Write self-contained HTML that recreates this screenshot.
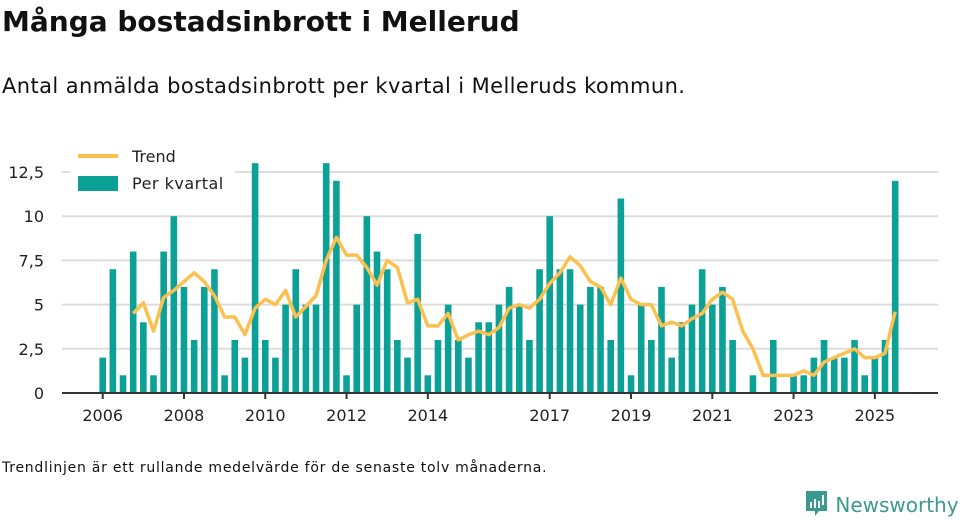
<!DOCTYPE html>
<html><head><meta charset="utf-8"><style>
body{margin:0;width:960px;height:520px;background:#fff;font-family:"DejaVu Sans","Liberation Sans",sans-serif;color:#111;overflow:hidden;position:relative}
.t{position:absolute;white-space:nowrap}
</style></head><body>
<div class="t" style="left:2px;top:5px;font-size:28px;font-weight:bold">Många bostadsinbrott i Mellerud</div>
<div class="t" style="left:2px;top:74px;font-size:21px;letter-spacing:0.4px">Antal anmälda bostadsinbrott per kvartal i Melleruds kommun.</div>
<svg id="c" width="960" height="520" style="position:absolute;left:0;top:0"></svg>
<div class="t" style="left:2px;top:460px;font-size:14px;letter-spacing:0.75px">Trendlinjen är ett rullande medelvärde för de senaste tolv månaderna.</div>
<div class="t" style="left:805px;top:490px;font-size:20px;color:#3a9a8f">
<svg width="24" height="28" style="vertical-align:-6px"><path d="M1 1h21v20h-8l-4 5v-5H1z" fill="#3a9a8f"/><rect x="5" y="12" width="2" height="6" fill="#fff"/><rect x="9" y="9" width="2" height="9" fill="#fff"/><rect x="13" y="11" width="2" height="7" fill="#fff"/><rect x="17" y="5" width="2" height="10" fill="#fff"/></svg> Newsworthy</div>
<script>
const values=[2,7,1,8,4,1,8,10,6,3,6,7,1,3,2,13,3,2,5,7,5,5,13,12,1,5,10,8,7,3,2,9,1,3,5,3,2,4,4,5,6,5,3,7,10,7,7,5,6,6,3,11,1,5,3,6,2,4,5,7,5,6,3,0,1,0,3,0,1,1,2,3,2,2,3,1,2,3,12];
const trend=[null,null,null,4.5,5.1,3.5,5.4,5.8,6.3,6.8,6.3,5.5,4.3,4.3,3.3,4.8,5.3,5.0,5.8,4.3,4.9,5.5,7.5,8.8,7.8,7.8,7.1,6.1,7.5,7.1,5.1,5.3,3.8,3.8,4.5,3.0,3.3,3.5,3.3,3.7,4.8,5.0,4.8,5.3,6.2,6.8,7.7,7.2,6.3,6.0,5.0,6.5,5.3,5.0,5.0,3.8,4.0,3.8,4.2,4.5,5.3,5.7,5.3,3.5,2.5,1.0,1.0,1.0,1.0,1.25,1.0,1.75,2.0,2.25,2.5,2.0,2.0,2.25,4.6];
const yTicks=[0,2.5,5,7.5,10,12.5];
const yLabels=["0","2,5","5","7,5","10","12,5"];
const xYears=[2006,2008,2010,2012,2014,2017,2019,2021,2023,2025];
const NS="http://www.w3.org/2000/svg",svg=document.getElementById('c');
const x=i=>102.7+i*10.16, y=v=>393-v*17.68, xy=yr=>x((yr-2006)*4);
function el(t,a,p){const e=document.createElementNS(NS,t);for(const k in a)e.setAttribute(k,a[k]);(p||svg).appendChild(e);return e;}
yTicks.forEach((v,i)=>{
 const g=el('line',{x1:62,x2:938,y1:y(v),y2:y(v),stroke:'#ddd','stroke-width':2});
 
 
 const t=el('text',{x:44,y:y(v)+6,'text-anchor':'end','font-size':16,fill:'#222','font-family':'DejaVu Sans, Liberation Sans, sans-serif'});
 t.textContent=yLabels[i];
 
 
});
values.forEach((v,i)=>{
 if(!v)return;
 const r=el('rect',{x:x(i)-3.3,y:y(v),width:6.6,height:v*17.68,fill:'#0ba197'});
 
 
});
let d='';trend.forEach((v,i)=>{if(v!=null)d+=(d?'L':'M')+x(i)+' '+y(v);});
const p=el('path',{d:d,fill:'none',stroke:'#fcc04f','stroke-width':3.5,'stroke-linejoin':'round'});


const ax=el('line',{x1:62,x2:938,y1:393,y2:393,stroke:'#333','stroke-width':2});


xYears.forEach(yr=>{
 const tk=el('line',{x1:xy(yr),x2:xy(yr),y1:393,y2:399,stroke:'#333','stroke-width':2});
 
 
 const t=el('text',{x:xy(yr),y:421,'text-anchor':'middle','font-size':16,fill:'#222','font-family':'DejaVu Sans, Liberation Sans, sans-serif'});
 t.textContent=yr;
 
 
});
const lb=el('rect',{x:70,y:142,width:165,height:58,fill:'#fff'});


const l1=el('line',{x1:78,x2:118,y1:156,y2:156,stroke:'#fcc04f','stroke-width':4});


const t1=el('text',{x:132,y:162,'font-size':16,fill:'#222','font-family':'DejaVu Sans, Liberation Sans, sans-serif'});t1.textContent='Trend';


const l2=el('rect',{x:78,y:176,width:40,height:15,fill:'#0ba197'});


const t2=el('text',{x:132,y:189,'font-size':16,fill:'#222','font-family':'DejaVu Sans, Liberation Sans, sans-serif','letter-spacing':0.5});t2.textContent='Per kvartal';


</script>
</body></html>
